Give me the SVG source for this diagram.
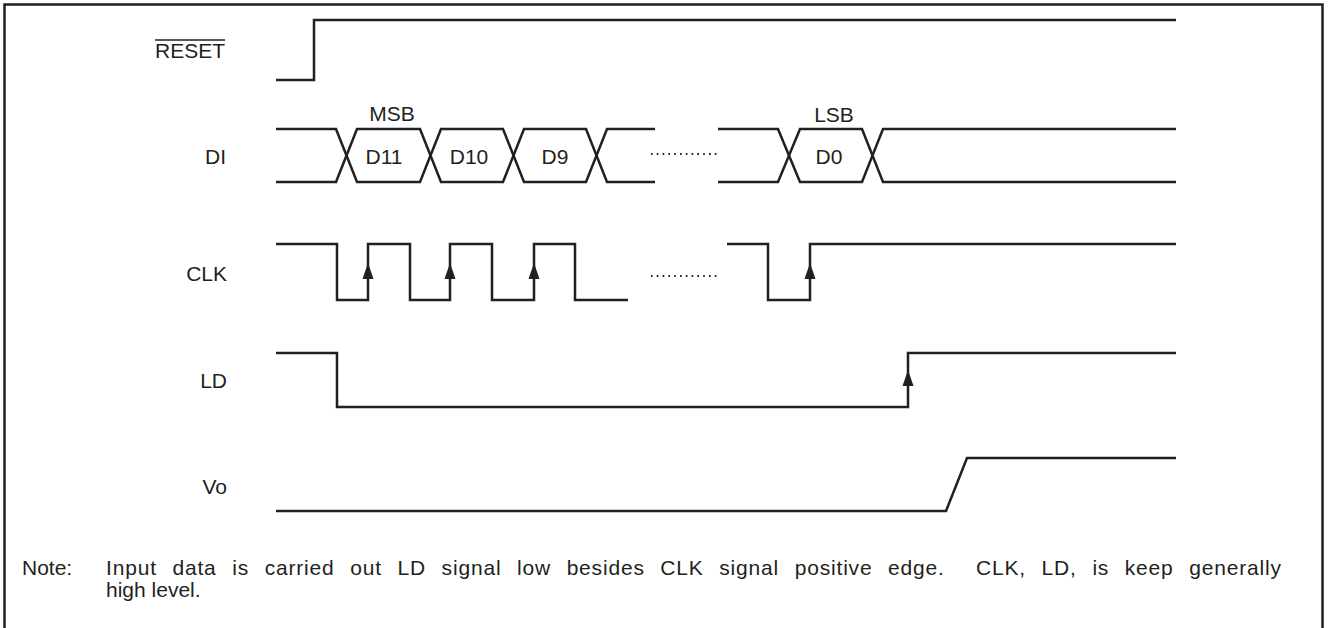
<svg xmlns="http://www.w3.org/2000/svg" xmlns:xlink="http://www.w3.org/1999/xlink" width="1328" height="628" viewBox="0 0 1328 628">
<style>
.w{fill:none;stroke:#231f20;stroke-width:2.5;stroke-linejoin:miter;stroke-linecap:butt}
.t{font-family:"Liberation Sans",Arial,sans-serif;font-size:21px;fill:#231f20}
.n{font-family:"Liberation Sans",Arial,sans-serif;font-size:21px;fill:#231f20}
.lbl{text-anchor:end}
.c{text-anchor:middle}
.dots{fill:none;stroke:#231f20;stroke-width:2;stroke-dasharray:1.6 4.2}
.ah{fill:#231f20}
</style>
<defs>
<path id="ah" d="M0,0 L-5.5,16 L5.5,16 Z"/>
</defs>
<rect x="4.5" y="4.5" width="1318" height="640" fill="none" stroke="#231f20" stroke-width="2.5"/>

<g id="RESET">
<text class="t lbl" x="225" y="58">RESET</text>
<line x1="155" y1="40" x2="225" y2="40" stroke="#231f20" stroke-width="1.3"/>
<path class="w" d="M276,80 H314 V20 H1176"/>
</g>

<g id="DI">
<text class="t lbl" x="226" y="164">DI</text>
<path class="w" d="M276,129 H336 L357,182 H420 L441,129 H503 L524,182 H586 L607,129 H655"/>
<path class="w" d="M276,182 H336 L357,129 H420 L441,182 H503 L524,129 H586 L607,182 H655"/>
<line class="dots" x1="651" y1="154" x2="718" y2="154"/>
<path class="w" d="M718,129 H778 L800,182 H862 L883,129 H1176"/>
<path class="w" d="M718,182 H778 L800,129 H862 L883,182 H1176"/>
<text class="t c" x="392" y="121">MSB</text>
<text class="t c" x="834" y="122">LSB</text>
<text class="t c" x="384" y="164">D11</text>
<text class="t c" x="469" y="164">D10</text>
<text class="t c" x="555" y="164">D9</text>
<text class="t c" x="829" y="164">D0</text>
</g>

<g id="CLK">
<text class="t lbl" x="227" y="281">CLK</text>
<path class="w" d="M276,244 H337 V300 H368 V244 H410 V300 H450 V244 H492 V300 H534 V244 H575 V300 H628"/>
<line class="dots" x1="651" y1="276" x2="718" y2="276"/>
<path class="w" d="M727,244 H768 V300 H810 V244 H1176"/>
<use xlink:href="#ah" class="ah" x="368" y="263"/>
<use xlink:href="#ah" class="ah" x="450" y="263"/>
<use xlink:href="#ah" class="ah" x="534" y="263"/>
<use xlink:href="#ah" class="ah" x="810" y="263"/>
</g>

<g id="LD">
<text class="t lbl" x="227" y="388">LD</text>
<path class="w" d="M276,353 H337 V407 H908 V353 H1176"/>
<use xlink:href="#ah" class="ah" x="908" y="370"/>
</g>

<g id="Vo">
<text class="t lbl" x="227" y="494">Vo</text>
<path class="w" d="M276,511 H946 L967,458 H1176"/>
</g>

<g id="note">
<text class="n" x="22" y="575">Note:</text>
<text class="n" x="106" y="575" xml:space="preserve" word-spacing="9" textLength="1175" lengthAdjust="spacing">Input data is carried out LD signal low besides CLK signal positive edge.  CLK, LD, is keep generally</text>
<text class="n" x="106" y="597">high level.</text>
</g>
</svg>
